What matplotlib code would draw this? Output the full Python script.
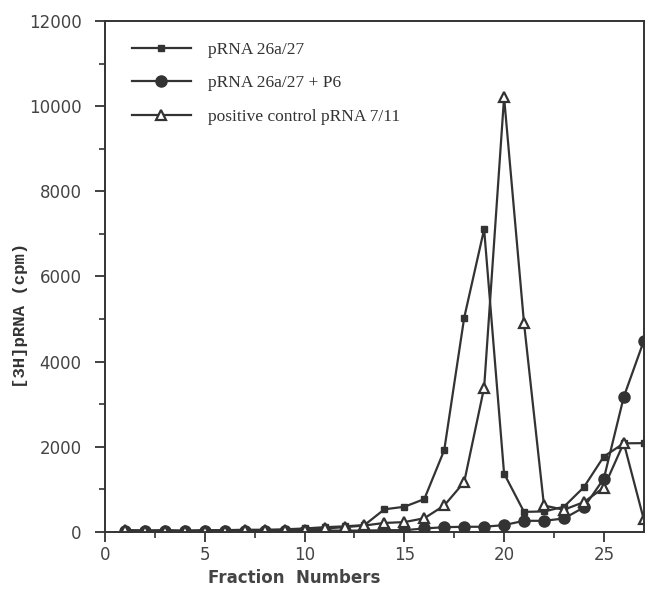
import numpy as np
import matplotlib.pyplot as plt
from matplotlib.ticker import MultipleLocator

# fraction numbers
fractions = np.arange(1, 28)

# pRNA 26a/27 (small filled squares)
prna = [40, 30, 40, 30, 40, 40, 50, 50, 60, 80, 110, 130, 160, 530, 590, 770,
        1920, 5030, 7110, 1370, 470, 480, 590, 1050, 1770, 2080, 2085]
# pRNA 26a/27 + P6 (filled circles)
prna_p6 = [20, 10, 10, 10, 10, 10, 20, 20, 20, 20, 30, 30, 30, 40, 40, 80,
           110, 120, 120, 160, 260, 260, 315, 575, 1250, 3170, 4480]
# positive control pRNA 7/11 (open triangles)
control = [40, 30, 30, 20, 30, 30, 40, 40, 40, 50, 80, 110, 150, 210, 230, 320,
           620, 1170, 3390, 10210, 4900, 620, 520, 700, 1040, 2090, 300]

labels = ['pRNA 26a/27', 'pRNA 26a/27 + P6', 'positive control pRNA 7/11']

fig = plt.figure(figsize=(6.45, 6.01), dpi=100)
ax = fig.add_axes([0.163, 0.115, 0.835, 0.85])

lc = '#333333'
ax.plot(fractions, prna, color=lc, lw=1.6, marker='s', ms=4,
        mfc=lc, mec=lc, label=labels[0])
ax.plot(fractions, prna_p6, color=lc, lw=1.6, marker='o', ms=8,
        mfc=lc, mec=lc, label=labels[1])
ax.plot(fractions, control, color=lc, lw=1.6, marker='^', ms=6.5,
        mfc='white', mec=lc, mew=1.6, label=labels[2])

ax.set_xlim(0, 27)
ax.set_ylim(0, 12000)
ax.xaxis.set_major_locator(MultipleLocator(5))
ax.xaxis.set_minor_locator(MultipleLocator(2.5))
ax.yaxis.set_major_locator(MultipleLocator(2000))
ax.yaxis.set_minor_locator(MultipleLocator(1000))
ax.tick_params(which='major', length=7, width=1.3, color=lc,
               labelsize=12, labelcolor='#444444', direction='out')
ax.tick_params(axis='y', which='major', pad=10)
ax.tick_params(which='minor', length=4, width=1.2, color=lc, direction='out')
for s in ax.spines.values():
    s.set_color(lc)
    s.set_linewidth(1.4)

fig.text(0.032, 0.476, '[3H]pRNA (cpm)', rotation=90, ha='center', va='center',
         family='Liberation Mono', weight='bold', fontsize=12.5, color='#333333')
fig.text(0.456, 0.038, 'Fraction  Numbers', ha='center', va='center',
         fontsize=12, weight='bold', color='#444444', family='DejaVu Sans')

leg = ax.legend(loc='upper left', bbox_to_anchor=(0.02, 0.99), frameon=False,
                prop={'family': 'Liberation Serif', 'size': 12.5},
                handlelength=3.4, labelspacing=1.0, handletextpad=1.0,
                borderaxespad=0.5)
for t in leg.get_texts():
    t.set_color('#333333')

fig.savefig('out.png', dpi=100)
